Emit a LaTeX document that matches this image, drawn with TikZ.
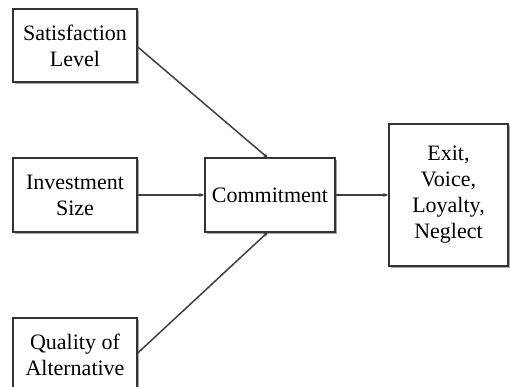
\documentclass[tikz,border=0pt]{standalone}
\usepackage{fontspec}
\setmainfont{Liberation Serif}
\usetikzlibrary{arrows.meta,shadows}
\begin{document}
\begin{tikzpicture}[x=1pt,y=-1pt,
  box/.style={draw=black!80,line width=1.5pt,fill=white,
    drop shadow={shadow xshift=2pt,shadow yshift=-2pt,fill=black!35,opacity=1},
    align=center,font=\fontsize{22}{26}\selectfont,inner sep=0pt},
  conn/.style={draw=black!75,line width=1.5pt,-{Stealth[length=5pt,width=4pt]}}]
\useasboundingbox (0,0) rectangle (510,387);
\clip (0,0) rectangle (510,387);
\fill[white] (0,0) rectangle (510,387);
\node[box,minimum width=124pt,minimum height=73pt] (sat) at (75,45.5) {Satisfaction\\Level};
\node[box,minimum width=124pt,minimum height=74pt] (inv) at (75,195) {Investment\\Size};
\node[box,minimum width=124pt,minimum height=74pt] (qual) at (75,355) {Quality of\\Alternative};
\node[box,minimum width=130pt,minimum height=74pt] (com) at (270,195) {Commitment};
\node[box,minimum width=119pt,minimum height=142pt] (out) at (448.5,195) {Exit,\\Voice,\\Loyalty,\\Neglect};
\coordinate (comtop) at (268,158);
\coordinate (combot) at (268,232);
\draw[conn] (sat.east |- 0,47) -- (comtop);
\draw[conn] (inv) -- (com);
\draw[conn] (qual.east |- 0,353) -- (combot);
\draw[conn] (com) -- (out);
\end{tikzpicture}
\end{document}
